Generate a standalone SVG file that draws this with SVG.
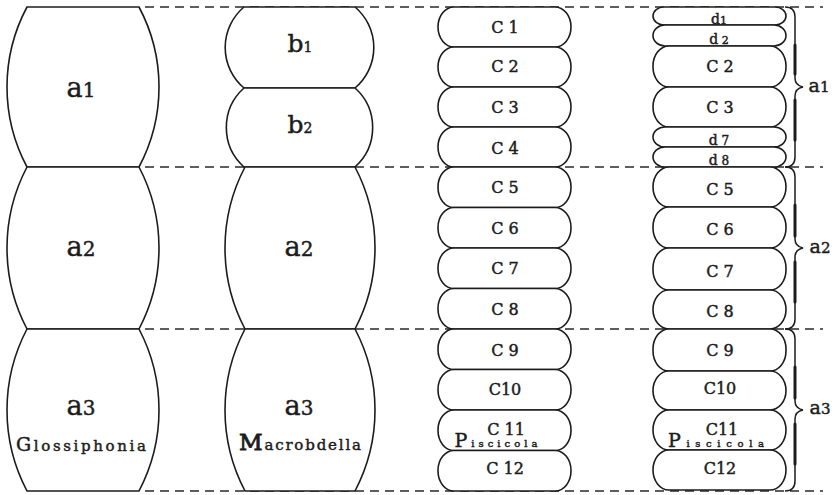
<svg xmlns="http://www.w3.org/2000/svg" width="837" height="495" viewBox="0 0 837 495">
<style>
.seg{fill:#fff;stroke:#1c1c1c;stroke-width:1.6}
.dash{fill:none;stroke:#2a2a2a;stroke-width:1.3;stroke-dasharray:9 6}
.brace{fill:none;stroke:#1c1c1c;stroke-width:1.5}
.thick{fill:none;stroke:#1c1c1c;stroke-width:3;stroke-linecap:round}
text{font-family:"DejaVu Serif","Liberation Serif",serif;fill:#1c1c1c;stroke:#1c1c1c;stroke-width:0.45;text-anchor:middle}
.big{font-size:27px}
.dig{font-size:20px}
.c{font-size:16px}
.d{font-size:14px}
.name{font-size:15px}
</style>
<rect width="837" height="495" fill="#fff"/>
<g id="connectors">
<line class="dash" x1="145" y1="7" x2="823" y2="7"/>
<line class="dash" x1="145" y1="167" x2="823" y2="167"/>
<line class="dash" x1="145" y1="329" x2="823" y2="329"/>
<line class="dash" x1="145" y1="491" x2="823" y2="491"/>
</g>
<g id="glossiphonia">
<g id="g-a1"><path class="seg" d="M27 7 L139 7 A170 170 0 0 1 139 167 L27 167 A170 170 0 0 1 27 7 Z"/>
<text x="81" y="97"><tspan class="big">a</tspan><tspan class="dig">1</tspan></text></g>
<g id="g-a2"><path class="seg" d="M27 167 L139 167 A174 174 0 0 1 139 329 L27 329 A174 174 0 0 1 27 167 Z"/>
<text x="81" y="256"><tspan class="big">a</tspan><tspan class="dig">2</tspan></text></g>
<g id="g-a3"><path class="seg" d="M27 329 L139 329 A174 174 0 0 1 139 491 L27 491 A174 174 0 0 1 27 329 Z"/>
<text x="81" y="415"><tspan class="big">a</tspan><tspan class="dig">3</tspan></text>
<text x="81" y="451" textLength="130" lengthAdjust="spacing"><tspan style="font-size:19px">G</tspan><tspan class="name">lossiphonia</tspan></text></g>
</g>
<g id="macrobdella">
<g id="m-b1"><path class="seg" d="M244 7 L355 7 A53 53 0 0 1 355 88 L244 88 A53 53 0 0 1 244 7 Z"/>
<text x="300" y="52"><tspan style="font-size:25px">b</tspan><tspan style="font-size:14px">1</tspan></text></g>
<g id="m-b2"><path class="seg" d="M244 88 L355 88 A53 53 0 0 1 355 167 L244 167 A53 53 0 0 1 244 88 Z"/>
<text x="300" y="133"><tspan style="font-size:25px">b</tspan><tspan style="font-size:14px">2</tspan></text></g>
<g id="m-a2"><path class="seg" d="M245 167 L355 167 A174 174 0 0 1 355 329 L245 329 A174 174 0 0 1 245 167 Z"/>
<text x="299" y="256"><tspan class="big">a</tspan><tspan class="dig">2</tspan></text></g>
<g id="m-a3"><path class="seg" d="M245 329 L355 329 A174 174 0 0 1 355 491 L245 491 A174 174 0 0 1 245 329 Z"/>
<text x="299" y="415"><tspan class="big">a</tspan><tspan class="dig">3</tspan></text>
<text x="300" y="450" textLength="122" lengthAdjust="spacing"><tspan style="font-size:23px;stroke-width:0.9">M</tspan><tspan class="name">acrobdella</tspan></text></g>
</g>
<g id="piscicola-a">
<g id="p-c1"><rect class="seg" x="438" y="7" width="133" height="40" rx="16" ry="20"/><text class="c" x="505" y="33">C 1</text></g>
<g id="p-c2"><rect class="seg" x="438" y="47" width="133" height="40" rx="16" ry="20"/><text class="c" x="505" y="72">C 2</text></g>
<g id="p-c3"><rect class="seg" x="438" y="87" width="133" height="40" rx="16" ry="20"/><text class="c" x="505" y="113">C 3</text></g>
<g id="p-c4"><rect class="seg" x="438" y="127" width="133" height="40" rx="16" ry="20"/><text class="c" x="505" y="154">C 4</text></g>
<g id="p-c5"><rect class="seg" x="438" y="167" width="133" height="40.5" rx="16" ry="20"/><text class="c" x="505" y="193">C 5</text></g>
<g id="p-c6"><rect class="seg" x="438" y="207.5" width="133" height="40.5" rx="16" ry="20"/><text class="c" x="505" y="234">C 6</text></g>
<g id="p-c7"><rect class="seg" x="438" y="248" width="133" height="40.5" rx="16" ry="20"/><text class="c" x="505" y="274">C 7</text></g>
<g id="p-c8"><rect class="seg" x="438" y="288.5" width="133" height="40.5" rx="16" ry="20"/><text class="c" x="505" y="315">C 8</text></g>
<g id="p-c9"><rect class="seg" x="438" y="329" width="133" height="40.5" rx="16" ry="20"/><text class="c" x="505" y="356">C 9</text></g>
<g id="p-c10"><rect class="seg" x="438" y="369.5" width="133" height="40.5" rx="16" ry="20"/><text class="c" x="505" y="395">C10</text></g>
<g id="p-c11"><rect class="seg" x="438" y="410" width="133" height="40.5" rx="16" ry="20"/><text class="c" x="506" y="435">C 11</text></g>
<g id="p-c12"><rect class="seg" x="438" y="450.5" width="133" height="40.5" rx="16" ry="20"/><text class="c" x="505" y="474">C 12</text></g>
<text x="496" y="447" textLength="83" lengthAdjust="spacing"><tspan style="font-size:19px">P</tspan><tspan style="font-size:10px">iscicola</tspan></text>
</g>
<g id="piscicola-b">
<g id="q-d1"><rect class="seg" x="653" y="7" width="133" height="18" rx="11" ry="9"/><text class="d" x="719" y="24">d<tspan style="font-size:11px">1</tspan></text></g>
<g id="q-d2"><rect class="seg" x="653" y="25" width="133" height="21" rx="12" ry="10.5"/><text class="d" x="719" y="44">d<tspan style="font-size:11px"> 2</tspan></text></g>
<g id="q-c2"><rect class="seg" x="653" y="46" width="133" height="41" rx="16" ry="20"/><text class="c" x="720" y="72">C 2</text></g>
<g id="q-c3"><rect class="seg" x="653" y="87" width="133" height="40" rx="16" ry="20"/><text class="c" x="720" y="113">C 3</text></g>
<g id="q-d7"><rect class="seg" x="653" y="127" width="133" height="20" rx="12" ry="10"/><text class="d" x="719" y="145">d<tspan style="font-size:12px"> 7</tspan></text></g>
<g id="q-d8"><rect class="seg" x="653" y="147" width="133" height="20" rx="12" ry="10"/><text class="d" x="719" y="165">d<tspan style="font-size:12px"> 8</tspan></text></g>
<g id="q-c5"><rect class="seg" x="653" y="167" width="133" height="40" rx="16" ry="20"/><text class="c" x="720" y="195">C 5</text></g>
<g id="q-c6"><rect class="seg" x="653" y="207" width="133" height="41" rx="16" ry="20"/><text class="c" x="720" y="235">C 6</text></g>
<g id="q-c7"><rect class="seg" x="653" y="248" width="133" height="42" rx="16" ry="20"/><text class="c" x="720" y="277">C 7</text></g>
<g id="q-c8"><rect class="seg" x="653" y="290" width="133" height="39" rx="16" ry="19.5"/><text class="c" x="720" y="317">C 8</text></g>
<g id="q-c9"><rect class="seg" x="653" y="329" width="133" height="42" rx="16" ry="20"/><text class="c" x="720" y="356">C 9</text></g>
<g id="q-c10"><rect class="seg" x="653" y="371" width="133" height="39" rx="16" ry="19.5"/><text class="c" x="720" y="394">C10</text></g>
<g id="q-c11"><rect class="seg" x="653" y="410" width="133" height="40" rx="16" ry="20"/><text class="c" x="722" y="435">C11</text></g>
<g id="q-c12"><rect class="seg" x="653" y="450" width="133" height="40" rx="16" ry="20"/><text class="c" x="720" y="474">C12</text></g>
<text x="716" y="447" textLength="96" lengthAdjust="spacing"><tspan style="font-size:19px">P</tspan><tspan style="font-size:10px">iscicola</tspan></text>
</g>
<g id="braces">
<path class="brace" d="M785 7 C791 7 795 10 795 17 L795 78 C795 84 798 86 803 87 C798 88 795 90 795 96 L795 157 C795 164 791 167 785 167"/>
<path class="thick" d="M795 45 L795 74 M795 100 L795 140"/>
<text x="819" y="92"><tspan style="font-size:19px">a</tspan><tspan style="font-size:15px">1</tspan></text>
<path class="brace" d="M785 167 C791 167 795 170 795 177 L795 239 C795 245 798 247 803 248 C798 249 795 251 795 257 L795 319 C795 326 791 329 785 329"/>
<path class="thick" d="M795 205 L795 236 M795 262 L795 302"/>
<text x="820" y="253"><tspan style="font-size:19px">a</tspan><tspan style="font-size:15px">2</tspan></text>
<path class="brace" d="M785 329 C791 329 795 332 795 339 L795 401 C795 407 798 409 803 410 C798 411 795 413 795 419 L795 481 C795 488 791 491 785 491"/>
<path class="thick" d="M795 367 L795 398 M795 424 L795 464"/>
<text x="820" y="414"><tspan style="font-size:19px">a</tspan><tspan style="font-size:15px">3</tspan></text>
</g>
</svg>
